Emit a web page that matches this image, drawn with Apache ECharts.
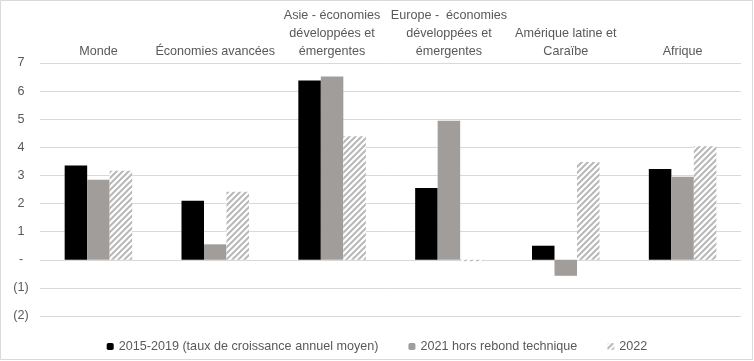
<!DOCTYPE html>
<html>
<head>
<meta charset="utf-8">
<script src="https://cdn.jsdelivr.net/npm/echarts@6/dist/echarts.min.js"></script>
<style>
html,body{margin:0;padding:0;background:#fff;}
#c{width:754px;height:361px;}
</style>
</head>
<body>
<div id="c"></div>
<script>
var categories = [
  'Monde',
  'Économies avancées',
  'Asie - économies\ndéveloppées et\némergentes',
  'Europe -  économies\ndéveloppées et\némergentes',
  'Amérique latine et\nCaraïbe',
  'Afrique'
];
var seriesNames = ['2015-2019 (taux de croissance annuel moyen)', '2021 hors rebond technique', '2022'];
var avg2015_2019 = [3.35, 2.1, 6.38, 2.55, 0.5, 3.23];
var y2021 = [2.85, 0.55, 6.52, 4.95, -0.57, 2.95];
var y2022 = [3.17, 2.42, 4.39, -0.05, 3.48, 4.04];
var yTicks = {min: -2, max: 7, interval: 1};

function hatch() {
  var c = document.createElement('canvas');
  c.width = 6; c.height = 6;
  var g = c.getContext('2d');
  g.fillStyle = '#ffffff';
  g.fillRect(0, 0, 6, 6);
  g.strokeStyle = '#b8b8b8';
  g.lineWidth = 2;
  g.beginPath();
  g.moveTo(-1, 7); g.lineTo(7, -1);
  g.moveTo(-4, 4); g.lineTo(4, -4);
  g.moveTo(2, 10); g.lineTo(10, 2);
  g.stroke();
  return c;
}

var font = "'Liberation Sans', Arial, sans-serif";
var fs = 12.6;
var chart = echarts.init(document.getElementById('c'), null, {renderer: 'canvas'});
chart.setOption({
  animation: false,
  textStyle: {fontFamily: font},
  graphic: [{
    type: 'rect', shape: {x: 0.5, y: 0.5, width: 752, height: 359},
    style: {fill: 'none', stroke: '#d9d9d9', lineWidth: 1}, silent: true, z: -1
  }],
  grid: {left: 40, right: 13, top: 63, bottom: 45},
  legend: {
    top: 335, left: 'center',
    itemWidth: 7, itemHeight: 7, itemGap: 30,
    textStyle: {color: '#595959', fontSize: fs, fontFamily: font},
    data: seriesNames
  },
  xAxis: {
    type: 'category', position: 'top', data: categories,
    axisLine: {show: false}, axisTick: {show: false},
    axisLabel: {interval: 0, color: '#595959', fontSize: fs, lineHeight: 18, margin: 2, fontFamily: font}
  },
  yAxis: {
    type: 'value', min: yTicks.min, max: yTicks.max, interval: yTicks.interval,
    axisLine: {show: false}, axisTick: {show: false},
    splitLine: {lineStyle: {color: '#d9d9d9', width: 1}},
    axisLabel: {
      color: '#595959', fontSize: fs, align: 'center', margin: 19, fontFamily: font,
      formatter: function (v) { return v === 0 ? '-' : (v < 0 ? '(' + Math.abs(v) + ')' : String(v)); }
    }
  },
  series: [
    {name: seriesNames[0], type: 'bar', data: avg2015_2019, barWidth: 22.5, barGap: '0%', itemStyle: {color: '#000000'}},
    {name: seriesNames[1], type: 'bar', data: y2021, barWidth: 22.5, barGap: '0%', itemStyle: {color: '#a09d9b'}},
    {name: seriesNames[2], type: 'bar', data: y2022, barWidth: 22.5, barGap: '0%', itemStyle: {color: {image: hatch(), repeat: 'repeat'}}}
  ]
});
</script>
</body>
</html>
